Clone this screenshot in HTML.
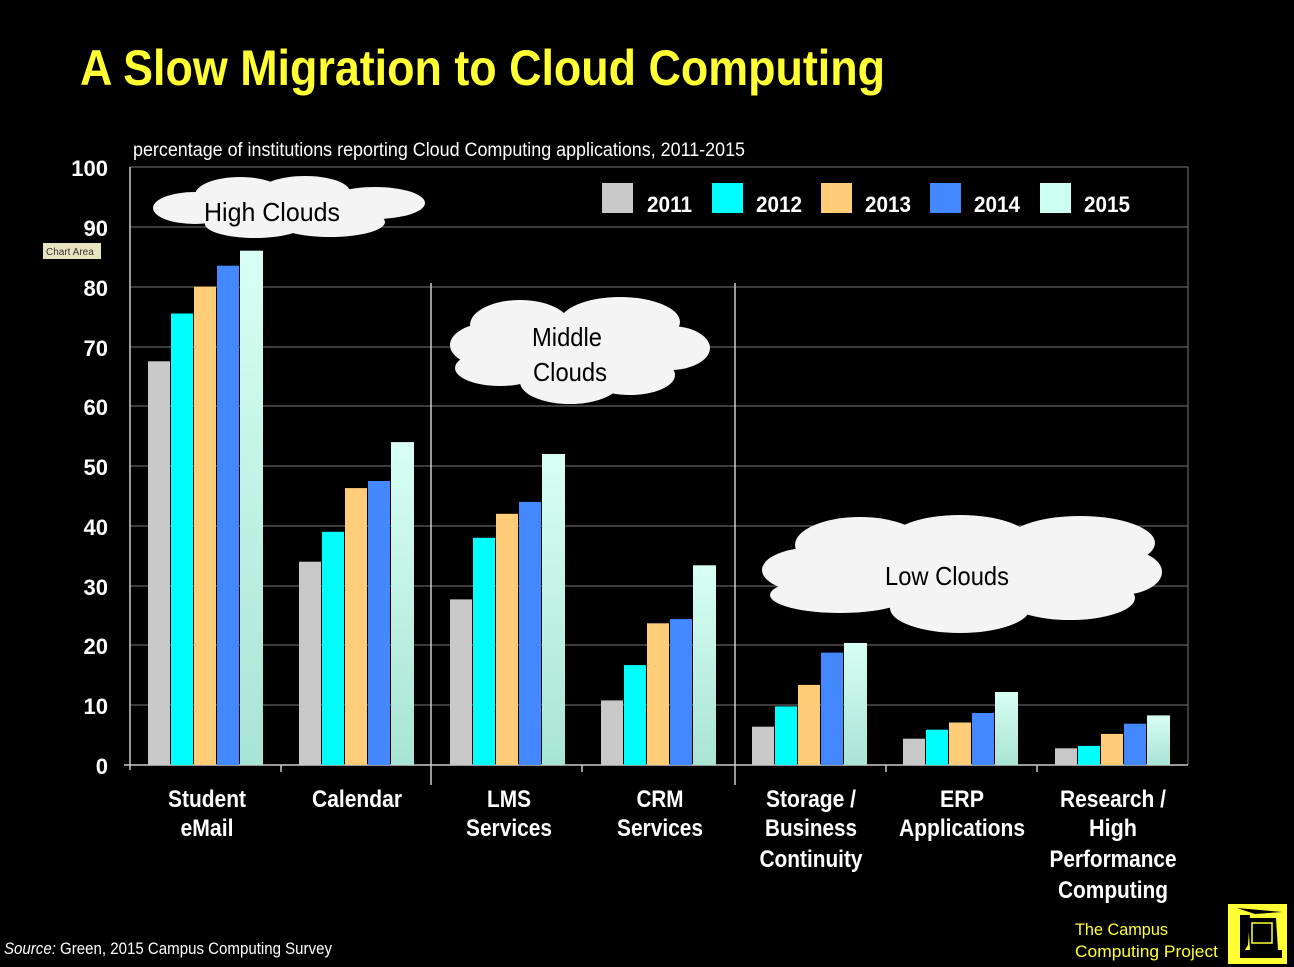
<!DOCTYPE html><html><head><style>body{margin:0;background:#000}svg{display:block}</style></head><body>
<svg width="1294" height="967" xmlns="http://www.w3.org/2000/svg" font-family="Liberation Sans, sans-serif">
<defs><linearGradient id="g15" x1="0" y1="0" x2="0" y2="1"><stop offset="0" stop-color="#d8fff4"/><stop offset="1" stop-color="#a8e4d4"/></linearGradient></defs>
<rect width="1294" height="967" fill="#000"/>
<text x="80" y="85" font-size="50" font-weight="bold" fill="#ffff33" textLength="805" lengthAdjust="spacingAndGlyphs">A Slow Migration to Cloud Computing</text>
<text x="133" y="156" font-size="19" fill="#fff" textLength="612" lengthAdjust="spacingAndGlyphs">percentage of institutions reporting Cloud Computing applications, 2011-2015</text>
<g stroke="#777" stroke-width="1">
<line x1="130" y1="167" x2="1188" y2="167"/><line x1="130" y1="227" x2="1188" y2="227"/><line x1="130" y1="287" x2="1188" y2="287"/><line x1="130" y1="347" x2="1188" y2="347"/><line x1="130" y1="406" x2="1188" y2="406"/><line x1="130" y1="466" x2="1188" y2="466"/><line x1="130" y1="526" x2="1188" y2="526"/><line x1="130" y1="586" x2="1188" y2="586"/><line x1="130" y1="645" x2="1188" y2="645"/><line x1="130" y1="705" x2="1188" y2="705"/>
<line x1="1188" y1="167" x2="1188" y2="765"/>
</g>
<g stroke="#ccc" stroke-width="1.5"><line x1="130" y1="167" x2="130" y2="770"/><line x1="124" y1="765" x2="1188" y2="765"/>
<line x1="431" y1="283" x2="431" y2="785"/><line x1="735" y1="283" x2="735" y2="785"/>
<line x1="281" y1="765" x2="281" y2="772"/><line x1="582" y1="765" x2="582" y2="772"/><line x1="886" y1="765" x2="886" y2="772"/><line x1="1037" y1="765" x2="1037" y2="772"/>
</g>
<g font-size="22" font-weight="bold" fill="#fff" text-anchor="end">
<text x="108" y="176">100</text><text x="108" y="236">90</text><text x="108" y="296">80</text><text x="108" y="356">70</text><text x="108" y="415">60</text><text x="108" y="475">50</text><text x="108" y="535">40</text><text x="108" y="595">30</text><text x="108" y="654">20</text><text x="108" y="714">10</text><text x="108" y="774">0</text>
</g>
<rect x="43" y="243" width="58" height="16" fill="#e8e4c0"/><text x="46" y="255" font-size="10" fill="#333">Chart Area</text>
<g>
<rect x="148" y="361.3" width="22" height="403.7" fill="#c8c8c8"/><rect x="171" y="313.5" width="22" height="451.5" fill="#00ffff"/><rect x="194" y="286.6" width="22" height="478.4" fill="#ffcc77"/><rect x="217" y="265.7" width="22" height="499.3" fill="#4488ff"/><rect x="240" y="250.7" width="23" height="514.3" fill="url(#g15)"/>
<rect x="299" y="561.7" width="22" height="203.3" fill="#c8c8c8"/><rect x="322" y="531.8" width="22" height="233.2" fill="#00ffff"/><rect x="345" y="488.1" width="22" height="276.9" fill="#ffcc77"/><rect x="368" y="481" width="22" height="284" fill="#4488ff"/><rect x="391" y="442.1" width="23" height="322.9" fill="url(#g15)"/>
<rect x="450" y="599.4" width="22" height="165.6" fill="#c8c8c8"/><rect x="473" y="537.8" width="22" height="227.2" fill="#00ffff"/><rect x="496" y="513.8" width="22" height="251.2" fill="#ffcc77"/><rect x="519" y="501.9" width="22" height="263.1" fill="#4488ff"/><rect x="542" y="454" width="23" height="311" fill="url(#g15)"/>
<rect x="601" y="700.4" width="22" height="64.6" fill="#c8c8c8"/><rect x="624" y="665.1" width="22" height="99.9" fill="#00ffff"/><rect x="647" y="623.3" width="22" height="141.7" fill="#ffcc77"/><rect x="670" y="619.1" width="22" height="145.9" fill="#4488ff"/><rect x="693" y="565.3" width="23" height="199.7" fill="url(#g15)"/>
<rect x="752" y="726.7" width="22" height="38.3" fill="#c8c8c8"/><rect x="775" y="706.4" width="22" height="58.6" fill="#00ffff"/><rect x="798" y="684.9" width="22" height="80.1" fill="#ffcc77"/><rect x="821" y="652.6" width="22" height="112.4" fill="#4488ff"/><rect x="844" y="643" width="23" height="122" fill="url(#g15)"/>
<rect x="903" y="738.7" width="22" height="26.3" fill="#c8c8c8"/><rect x="926" y="729.7" width="22" height="35.3" fill="#00ffff"/><rect x="949" y="722.5" width="22" height="42.5" fill="#ffcc77"/><rect x="972" y="713" width="22" height="52" fill="#4488ff"/><rect x="995" y="692" width="23" height="73" fill="url(#g15)"/>
<rect x="1055" y="748.3" width="22" height="16.7" fill="#c8c8c8"/><rect x="1078" y="745.9" width="22" height="19.1" fill="#00ffff"/><rect x="1101" y="733.9" width="22" height="31.1" fill="#ffcc77"/><rect x="1124" y="723.7" width="22" height="41.3" fill="#4488ff"/><rect x="1147" y="715.4" width="23" height="49.6" fill="url(#g15)"/>
</g>
<g font-size="22" font-weight="bold" fill="#fff">
<rect x="602" y="183" width="31" height="30" fill="#c8c8c8"/><text x="647" y="212" textLength="45" lengthAdjust="spacingAndGlyphs">2011</text>
<rect x="712" y="183" width="31" height="30" fill="#00ffff"/><text x="756" y="212" textLength="46" lengthAdjust="spacingAndGlyphs">2012</text>
<rect x="821" y="183" width="31" height="30" fill="#ffcc77"/><text x="865" y="212" textLength="46" lengthAdjust="spacingAndGlyphs">2013</text>
<rect x="930" y="183" width="31" height="30" fill="#4488ff"/><text x="974" y="212" textLength="46" lengthAdjust="spacingAndGlyphs">2014</text>
<rect x="1040" y="183" width="31" height="30" fill="#ccfff0"/><text x="1084" y="212" textLength="46" lengthAdjust="spacingAndGlyphs">2015</text>
</g>
<g fill="#f4f4f4">
<ellipse cx="195" cy="208" rx="42" ry="16"/><ellipse cx="240" cy="195" rx="45" ry="18"/><ellipse cx="305" cy="192" rx="45" ry="16"/><ellipse cx="375" cy="203" rx="50" ry="16"/><ellipse cx="330" cy="222" rx="55" ry="15"/><ellipse cx="255" cy="224" rx="50" ry="14"/>
<ellipse cx="490" cy="345" rx="40" ry="22"/><ellipse cx="520" cy="325" rx="50" ry="25"/><ellipse cx="620" cy="322" rx="60" ry="25"/><ellipse cx="670" cy="348" rx="40" ry="22"/><ellipse cx="630" cy="375" rx="45" ry="20"/><ellipse cx="570" cy="382" rx="50" ry="22"/><ellipse cx="500" cy="368" rx="45" ry="18"/>
<ellipse cx="810" cy="570" rx="48" ry="22"/><ellipse cx="860" cy="545" rx="65" ry="28"/><ellipse cx="960" cy="540" rx="70" ry="25"/><ellipse cx="1080" cy="543" rx="75" ry="27"/><ellipse cx="1120" cy="572" rx="42" ry="23"/><ellipse cx="1070" cy="598" rx="65" ry="22"/><ellipse cx="960" cy="608" rx="70" ry="25"/><ellipse cx="840" cy="595" rx="70" ry="18"/>
<ellipse cx="270" cy="208" rx="100" ry="14"/><ellipse cx="580" cy="350" rx="100" ry="30"/><ellipse cx="960" cy="575" rx="170" ry="35"/></g>
<g font-size="26" fill="#000" text-anchor="middle">
<text x="272" y="221" textLength="136" lengthAdjust="spacingAndGlyphs">High  Clouds</text><text x="567" y="346" textLength="70" lengthAdjust="spacingAndGlyphs">Middle</text><text x="570" y="381" textLength="74" lengthAdjust="spacingAndGlyphs">Clouds</text><text x="947" y="585" textLength="124" lengthAdjust="spacingAndGlyphs">Low Clouds</text>
</g>
<g font-size="24" font-weight="bold" fill="#fff" text-anchor="middle" lengthAdjust="spacingAndGlyphs">
<text x="207" y="807" textLength="78" lengthAdjust="spacingAndGlyphs">Student</text><text x="207" y="836" textLength="53" lengthAdjust="spacingAndGlyphs">eMail</text>
<text x="357" y="807" textLength="90" lengthAdjust="spacingAndGlyphs">Calendar</text>
<text x="509" y="807" textLength="44" lengthAdjust="spacingAndGlyphs">LMS</text><text x="509" y="836" textLength="86" lengthAdjust="spacingAndGlyphs">Services</text>
<text x="660" y="807" textLength="47" lengthAdjust="spacingAndGlyphs">CRM</text><text x="660" y="836" textLength="86" lengthAdjust="spacingAndGlyphs">Services</text>
<text x="811" y="807" textLength="90" lengthAdjust="spacingAndGlyphs">Storage /</text><text x="811" y="836" textLength="92" lengthAdjust="spacingAndGlyphs">Business</text><text x="811" y="867" textLength="103" lengthAdjust="spacingAndGlyphs">Continuity</text>
<text x="962" y="807" textLength="44" lengthAdjust="spacingAndGlyphs">ERP</text><text x="962" y="836" textLength="126" lengthAdjust="spacingAndGlyphs">Applications</text>
<text x="1113" y="807" textLength="106" lengthAdjust="spacingAndGlyphs">Research /</text><text x="1113" y="836" textLength="48" lengthAdjust="spacingAndGlyphs">High</text><text x="1113" y="867" textLength="127" lengthAdjust="spacingAndGlyphs">Performance</text><text x="1113" y="898" textLength="110" lengthAdjust="spacingAndGlyphs">Computing</text>
</g>
<text x="4" y="954" font-size="17" fill="#fff" textLength="328" lengthAdjust="spacingAndGlyphs"><tspan font-style="italic">Source:</tspan> Green, 2015  Campus Computing Survey</text>
<text x="1075" y="935" font-size="17" fill="#ffff33" textLength="93" lengthAdjust="spacingAndGlyphs">The Campus</text>
<text x="1075" y="957" font-size="17" fill="#ffff33" textLength="143" lengthAdjust="spacingAndGlyphs">Computing Project</text>
<rect x="1228" y="904" width="59" height="60" fill="#ffff33"/>
<path d="M1237 908 L1282 912 L1255 914 Z M1240 915 L1250 915 L1248 945 L1240 958 Z M1248 918 L1276 918 L1278 950 L1250 950 Z M1245 950 L1282 950 L1282 958 L1240 958 Z" fill="#000"/>
<rect x="1252" y="923" width="20" height="20" fill="none" stroke="#ff3" stroke-width="1.5"/>
</svg></body></html>
